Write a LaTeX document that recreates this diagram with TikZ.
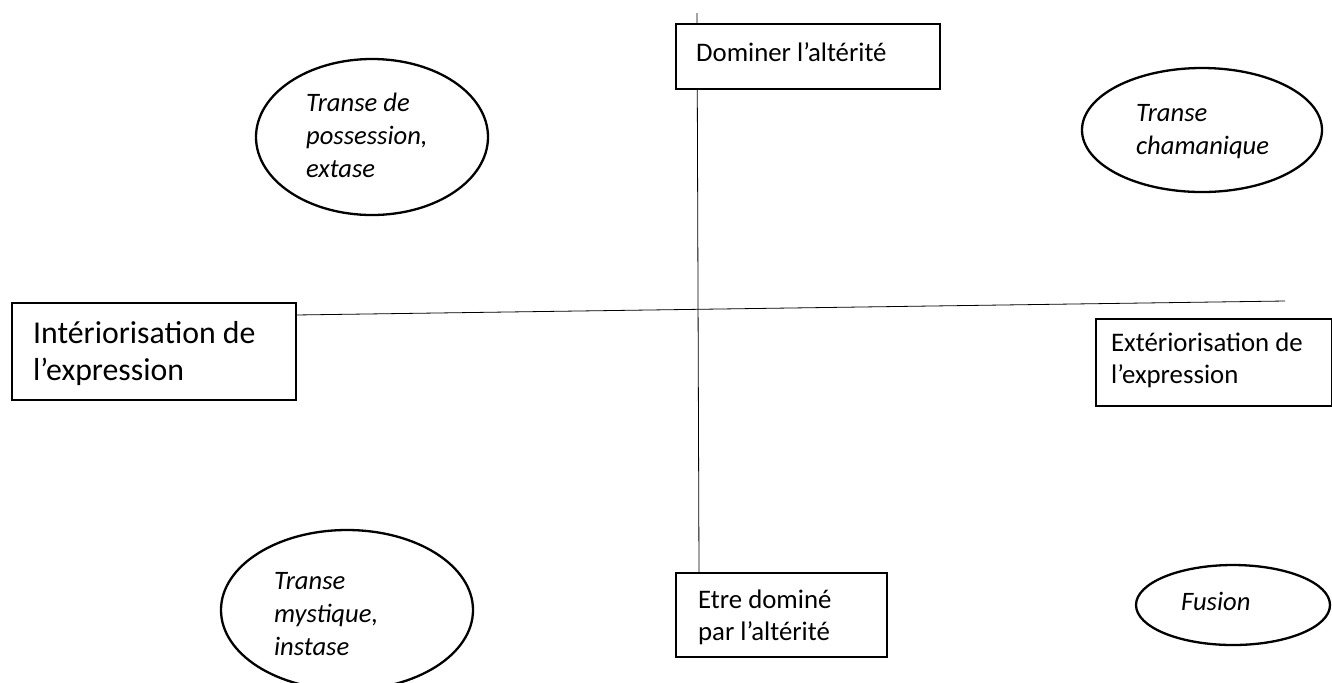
\documentclass[tikz,border=0pt]{standalone}
\usepackage{fontspec}
\setmainfont{Carlito}
\usetikzlibrary{backgrounds,shapes.geometric}
\newcommand\mylines[1]{\begin{tabular}[t]{@{}l@{}}#1\end{tabular}}
\begin{document}
\begin{tikzpicture}[x=0.5pt,y=-0.5pt,line width=1.15pt,
  box/.style={draw,fill=white,rectangle,inner sep=0pt,anchor=north west},
  oval/.style={draw,ellipse,inner sep=0pt},
  txt/.style={anchor=base west,inner sep=0pt,font=\fontsize{13.4}{16.4}\selectfont},
  bigtxt/.style={anchor=base west,inner sep=0pt,font=\fontsize{15.9}{18.5}\selectfont},
  ovaltxt/.style={txt,font=\fontsize{13.3}{16.6}\selectfont\itshape}]
\useasboundingbox (0,0) rectangle (1332,682);
% boxes
\node[box,minimum width=132pt,minimum height=32.5pt] (top) at (675,23) {};
\node[box,minimum width=142pt,minimum height=48.5pt] (left) at (11,302) {};
\node[box,minimum width=118pt,minimum height=43.5pt] (right) at (1095,318) {};
\node[box,minimum width=105.5pt,minimum height=42pt] (bot) at (675,572) {};
\node[txt] (toptxt) at (695,61) {Dominer l’altérité};
\node[bigtxt] (lefttxt) at (32,343) {\mylines{Intériorisation de\\l’expression}};
\node[txt] (righttxt) at (1110,351) {\mylines{Extériorisation de\\l’expression}};
\node[txt] (bottxt) at (697,608) {\mylines{Etre dominé\\par l’altérité}};
% axes
\coordinate (vtop) at (697,13);
\coordinate (vbot) at (699,572);
\coordinate (hleft) at (295,315);
\coordinate (hright) at (1285,301);
\begin{scope}[on background layer]
\draw (vtop) -- (vbot);
\draw (hleft) -- (hright);
\end{scope}
% ellipses
\node[oval,minimum width=116pt,minimum height=78pt] (tl) at (372,137) {};
\node[oval,minimum width=120pt,minimum height=62pt] (tr) at (1202,130) {};
\node[oval,minimum width=126pt,minimum height=80pt] (bl) at (347,610) {};
\node[oval,minimum width=97pt,minimum height=40pt] (br) at (1233,605) {};
\node[ovaltxt] (tltxt) at (305,111) {\mylines{Transe de\\possession,\\extase}};
\node[ovaltxt] (trtxt) at (1135,121) {\mylines{Transe\\chamanique}};
\node[ovaltxt] (bltxt) at (273,589) {\mylines{Transe\\mystique,\\instase}};
\node[ovaltxt] (brtxt) at (1180,610) {Fusion};
\end{tikzpicture}
\end{document}
